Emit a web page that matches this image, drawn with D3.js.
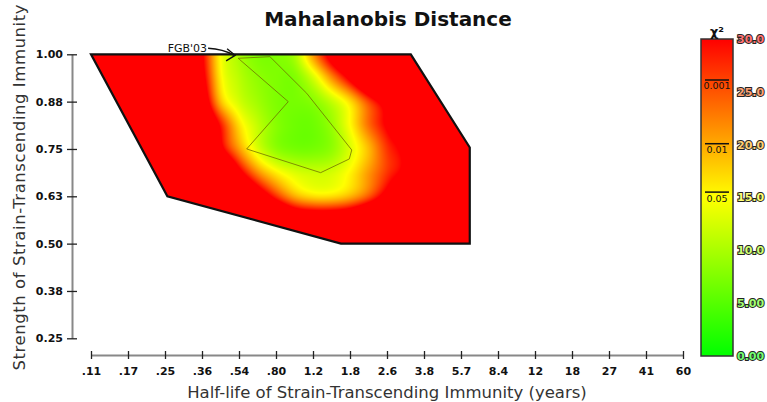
<!DOCTYPE html>
<html><head><meta charset="utf-8">
<script src="https://cdn.jsdelivr.net/npm/d3@7"></script>
<style>
html,body{margin:0;padding:0;background:#fff;}
svg{display:block;font-family:"DejaVu Sans",sans-serif;}
</style></head><body>
<svg id="c" width="767" height="402"></svg>
<script>
// ---------- data ----------
const titleText = "Mahalanobis Distance";
const xTitle = "Half-life of Strain-Transcending Immunity (years)";
const yTitle = "Strength of Strain-Transcending Immunity";
const xDomain = [0.11, 60];
const xTickLabels = [".11",".17",".25",".36",".54",".80","1.2","1.8","2.6","3.8","5.7","8.4","12","18","27","41","60"];
const yDomain = [0.25, 1.0];
const yTickValues = [1.00, 0.875, 0.75, 0.625, 0.50, 0.375, 0.25];
const yTickLabels = ["1.00","0.88","0.75","0.63","0.50","0.38","0.25"];
// explored parameter region (outer polygon)
const regionX = [0.11, 3.31, 6.2, 6.2, 1.573, 0.248];
const regionY = [1.00, 1.00, 0.754, 0.50, 0.50, 0.625];
// inner confidence outline
const confX = [0.527, 0.898, 0.577, 1.268, 1.72, 1.765, 1.093, 0.739];
const confY = [0.9895, 0.875, 0.75, 0.6874, 0.7236, 0.7473, 0.897, 0.9937];
// chi-square surface grid
const gridX = [0.110,0.1339,0.1631,0.1986,0.2419,0.2945,0.3587,0.4367,0.5318,0.6476,0.7886,0.9603,1.1694,1.4240,1.7340,2.1115,2.5712,3.1310,3.8126,4.6427,5.6534,6.8842];
const gridY = [1.0, 0.9375, 0.875, 0.8125, 0.75, 0.6875, 0.625, 0.5625, 0.5];
const chi2Row0 = [60,60,60,60,60,48,31,15,10,7.5,7.5,10,21,34,48,60,60,60,60,60,60,60];
const chi2Row1 = [60,60,60,60,60,50,33,16,11,8.5,7.5,7.5,12.5,21.5,32,46,60,60,60,60,60,60];
const chi2Row2 = [60,60,60,60,60,60,38,19,12.5,9.5,7.5,7,8,11.5,17,26,35,48,60,60,60,60];
const chi2Row3 = [60,60,60,60,60,60,46,29,17,11.5,8,6.5,6.5,9,15,23.5,31,40,55,60,60,60];
const chi2Row4 = [60,60,60,60,60,60,55,33,21,13,8.5,7,7,8.5,13,19,27,33,48,60,60,60];
const chi2Row5 = [60,60,60,60,60,60,60,50,33,22,16,13,12,12.5,15.5,21,27,33,48,60,60,60];
const chi2Row6 = [60,60,60,60,60,60,60,60,50,38,27.5,20,17,17,19.5,25,34,46,60,60,60,60];
const chi2Row7 = [60,60,60,60,60,60,60,60,60,60,50,42,40,40,42,48,55,60,60,60,60,60];
const chi2Row8 = [60,60,60,60,60,60,60,60,60,60,60,60,60,60,60,60,60,60,60,60,60,60];
const colorDomain = [0, 15, 30];
const colorRange = ["#00ff00", "#ffff00", "#ff0000"];
const cbTicks = [30, 25, 20, 15, 10, 5, 0];
const cbTickLabels = ["30.0","25.0","20.0","15.0","10.0","5.00","0.00"];
const critValues = [26.12, 20.09, 15.51];
const critLabels = ["0.001","0.01","0.05"];
const annLabel = "FGB'03";
const annX = 0.51, annY = 1.0;

const chi2 = [chi2Row0,chi2Row1,chi2Row2,chi2Row3,chi2Row4,chi2Row5,chi2Row6,chi2Row7,chi2Row8];

// ---------- scales ----------
const svg = d3.select("#c");
const x = d3.scaleLog().domain(xDomain).range([91, 683]);
const y = d3.scaleLinear().domain(yDomain).range([338.3, 54.3]);
const color = d3.scaleLinear().domain(colorDomain).range(colorRange).clamp(true);
const nX = xTickLabels.length - 1;
const xTickValues = xTickLabels.map((_, i) => xDomain[0] * Math.pow(xDomain[1] / xDomain[0], i / nX));

// ---------- heatmap ----------
const pts = regionX.map((d, i) => [x(d), y(regionY[i])]);
const bx0 = Math.floor(d3.min(pts, p => p[0])), bx1 = Math.ceil(d3.max(pts, p => p[0]));
const by0 = Math.floor(d3.min(pts, p => p[1])), by1 = Math.ceil(d3.max(pts, p => p[1]));
const W = bx1 - bx0, H = by1 - by0;
const canvas = document.createElement("canvas");
canvas.width = W; canvas.height = H;
const ctx = canvas.getContext("2d");
const img = ctx.createImageData(W, H);
const lgx = gridX.map(Math.log);
function frac(arr, v) {
  const asc = arr[arr.length - 1] > arr[0];
  for (let i = 0; i < arr.length - 1; i++) {
    const a = arr[i], b = arr[i + 1];
    if ((asc && v >= a && v <= b) || (!asc && v <= a && v >= b)) return i + (v - a) / (b - a);
  }
  return asc ? (v < arr[0] ? 0 : arr.length - 1) : (v > arr[0] ? 0 : arr.length - 1);
}
function cr(p0, p1, p2, p3, t) {
  return 0.5 * ((2 * p1) + (-p0 + p2) * t + (2 * p0 - 5 * p1 + 4 * p2 - p3) * t * t + (-p0 + 3 * p1 - 3 * p2 + p3) * t * t * t);
}
const nr = gridY.length, nc = gridX.length;
function val(r, c) { r = Math.max(0, Math.min(nr - 1, r)); c = Math.max(0, Math.min(nc - 1, c)); return chi2[r][c]; }
function sample(fr, fc) {
  const r = Math.min(Math.floor(fr), nr - 2), c = Math.min(Math.floor(fc), nc - 2);
  const tr = fr - r, tc = fc - c;
  const rows = [];
  for (let j = -1; j <= 2; j++) rows.push(cr(val(r + j, c - 1), val(r + j, c), val(r + j, c + 1), val(r + j, c + 2), tc));
  return cr(rows[0], rows[1], rows[2], rows[3], tr);
}
for (let py = 0; py < H; py++) {
  const yv = y.invert(by0 + py + 0.5);
  const fr = frac(gridY, yv);
  for (let px = 0; px < W; px++) {
    const xv = x.invert(bx0 + px + 0.5);
    const fc = frac(lgx, Math.log(xv));
    const v = sample(fr, fc);
    const c = d3.rgb(color(v));
    const k = (py * W + px) * 4;
    img.data[k] = c.r; img.data[k + 1] = c.g; img.data[k + 2] = c.b; img.data[k + 3] = 255;
  }
}
ctx.putImageData(img, 0, 0);

const defs = svg.append("defs");
const line = d3.line().x(d => d[0]).y(d => d[1]);
defs.append("clipPath").attr("id", "reg").append("path").attr("d", line(pts) + "Z");
svg.append("image").attr("x", bx0).attr("y", by0).attr("width", W).attr("height", H)
  .attr("href", canvas.toDataURL()).attr("clip-path", "url(#reg)");
svg.append("path").attr("d", line(pts) + "Z").attr("fill", "none")
  .attr("stroke", "#111").attr("stroke-width", 2.2).attr("stroke-linejoin", "miter");
const cpts = confX.map((d, i) => [x(d), y(confY[i])]);
svg.append("path").attr("d", line(cpts) + "Z").attr("fill", "none")
  .attr("stroke", "#6e6a00").attr("stroke-width", 1).attr("stroke-opacity", 0.75);

// ---------- annotation ----------
const ax = x(annX), ay = y(annY) + 1;
svg.append("text").attr("x", ax - 28).attr("y", ay - 3.5).attr("text-anchor", "end")
  .attr("font-size", 11).attr("fill", "#111").text(annLabel);
svg.append("path").attr("d", `M${ax-27},${ay-7} C${ax-17},${ay-6.5} ${ax-9},${ay-4.5} ${ax-1},${ay}`)
  .attr("fill", "none").attr("stroke", "#111").attr("stroke-width", 1.4);
svg.append("path").attr("d", `M${ax-8},${ay-6.5} L${ax},${ay} L${ax-9},${ay+5.5}`)
  .attr("fill", "none").attr("stroke", "#111").attr("stroke-width", 1.4);

// ---------- axes ----------
const yAxis = d3.axisLeft(y).tickValues(yTickValues).tickFormat((d, i) => yTickLabels[i])
  .tickSizeInner(5).tickSizeOuter(0).tickPadding(4);
const gy = svg.append("g").attr("transform", "translate(72,0)").call(yAxis);
gy.select(".domain").attr("stroke", "#888").attr("stroke-width", 2);
gy.selectAll(".tick line").attr("x1", -5).attr("x2", 5).attr("stroke", "#222").attr("stroke-width", 1.3);
gy.selectAll(".tick text").attr("font-size", 11).attr("font-weight", "bold").attr("font-family", "DejaVu Sans").attr("fill", "#111");

const xAxis = d3.axisBottom(x).tickValues(xTickValues).tickFormat((d, i) => xTickLabels[i])
  .tickSizeInner(4).tickSizeOuter(0);
const gx = svg.append("g").attr("transform", "translate(0,355)").call(xAxis);
gx.select(".domain").attr("stroke", "#888").attr("stroke-width", 2);
gx.selectAll(".tick line").attr("y1", -4).attr("y2", 4).attr("stroke", "#222").attr("stroke-width", 1.3);
gx.selectAll(".tick text").attr("y", 20).attr("dy", 0).attr("font-size", 11).attr("font-weight", "bold")
  .attr("font-family", "DejaVu Sans").attr("fill", "#111");

// ---------- titles ----------
svg.append("text").attr("x", 388).attr("y", 26).attr("text-anchor", "middle")
  .attr("font-size", 20).attr("font-weight", "bold").attr("fill", "#111").text(titleText);
svg.append("text").attr("x", 387).attr("y", 398).attr("text-anchor", "middle")
  .attr("font-size", 16.5).attr("fill", "#333").text(xTitle);
svg.append("text").attr("transform", "translate(25,187.5) rotate(-90)").attr("text-anchor", "middle")
  .attr("font-size", 16.5).attr("textLength", 366).attr("lengthAdjust", "spacing")
  .attr("fill", "#333").text(yTitle);

// ---------- colour bar ----------
const cb = d3.scaleLinear().domain([0, 30]).range([356, 39]);
const grad = defs.append("linearGradient").attr("id", "cbg").attr("x1", 0).attr("y1", 1).attr("x2", 0).attr("y2", 0);
colorDomain.forEach(v => grad.append("stop").attr("offset", v / 30).attr("stop-color", color(v)));
svg.append("rect").attr("x", 701).attr("y", cb(30)).attr("width", 32).attr("height", cb(0) - cb(30))
  .attr("fill", "url(#cbg)").attr("stroke", "#333").attr("stroke-width", 1.5);
critValues.forEach((v, i) => {
  svg.append("line").attr("x1", 705).attr("x2", 729).attr("y1", cb(v)).attr("y2", cb(v))
    .attr("stroke", "#111").attr("stroke-width", 1.5);
  svg.append("text").attr("x", 717).attr("y", cb(v) + 9.5).attr("text-anchor", "middle")
    .attr("font-size", 9.5).attr("fill", "#111").text(critLabels[i]);
});
cbTicks.forEach((v, i) => {
  svg.append("text").attr("x", 737).attr("y", cb(v)).attr("dy", "0.36em")
    .attr("font-size", 11).attr("font-weight", "bold")
    .attr("fill", d3.interpolateRgb(color(v), "#ffffff")(0.45))
    .attr("stroke", "#222").attr("stroke-width", 2).attr("paint-order", "stroke")
    .text(cbTickLabels[i]);
});
svg.append("text").attr("x", 717).attr("y", 36).attr("text-anchor", "middle")
  .attr("font-size", 13).attr("font-weight", "bold").attr("fill", "#111").text("χ²");
</script>
</body></html>
